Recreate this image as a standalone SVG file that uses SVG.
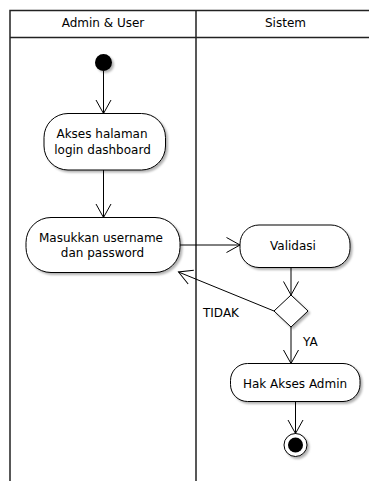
<svg xmlns="http://www.w3.org/2000/svg" width="369" height="481" viewBox="0 0 369 481">
<defs>
<marker id="arr" markerUnits="userSpaceOnUse" markerWidth="16" markerHeight="18" viewBox="-14 -9 16 18" refX="0" refY="0" orient="auto">
<path d="M-13.5,-7.5 L0,0 L-13.5,7.5" fill="none" stroke="#000" stroke-width="1"/>
</marker>
<filter id="sh" x="-20%" y="-20%" width="150%" height="150%">
<feDropShadow dx="2" dy="2" stdDeviation="1" flood-color="#000" flood-opacity="0.3"/>
</filter>
</defs>
<style>
.lane{fill:none;stroke:#222;stroke-width:1.5}
.act{fill:#fff;stroke:#000;stroke-width:1;filter:url(#sh)}
.t{font-family:"DejaVu Sans",sans-serif;font-size:12px;fill:#000}
.c{text-anchor:middle}
.edge{fill:none;stroke:#000;stroke-width:1;marker-end:url(#arr)}
</style>
<rect width="369" height="481" fill="#fff"/>
<g id="lanes">
<path class="lane" d="M10,481 V10.5 H369 M10,37.5 H369 M196,10.5 V481"/>
<text class="t c" x="103" y="27">Admin &amp; User</text>
<text class="t c" x="285.5" y="27">Sistem</text>
</g>
<g id="start"><circle cx="103.5" cy="62.5" r="8.5" fill="#000" filter="url(#sh)"/></g>
<g id="akses">
<rect class="act" x="44" y="113.5" width="121.5" height="56.5" rx="24" ry="24"/>
<text class="t c" x="102" y="138">Akses halaman</text>
<text class="t c" x="102.5" y="154">login dashboard</text>
</g>
<g id="masukkan">
<rect class="act" x="26" y="217.5" width="154" height="55" rx="25" ry="25"/>
<text class="t c" x="101" y="241.5">Masukkan username</text>
<text class="t c" x="102.5" y="257">dan password</text>
</g>
<g id="validasi">
<rect class="act" x="240" y="225" width="110" height="42.5" rx="19" ry="19"/>
<text class="t c" x="293" y="249.5">Validasi</text>
</g>
<g id="decision">
<polygon class="act" points="291,295 308,311 291,327 274,311"/>
</g>
<g id="hak">
<rect class="act" x="230.5" y="363.5" width="129.5" height="38" rx="17" ry="17"/>
<text class="t c" x="295" y="387.5">Hak Akses Admin</text>
</g>
<g id="end">
<circle cx="295.5" cy="445" r="11.5" fill="#fff" stroke="#000" stroke-width="1" filter="url(#sh)"/>
<circle cx="295.5" cy="445" r="7.5" fill="#000"/>
</g>
<g id="connectors">
<line class="edge" x1="103.5" y1="71" x2="103.5" y2="113.5"/>
<line class="edge" x1="103.5" y1="170" x2="103.5" y2="217.5"/>
<line class="edge" x1="180" y1="245" x2="240" y2="245"/>
<line class="edge" x1="291" y1="267.5" x2="291" y2="295"/>
<line class="edge" x1="274" y1="311" x2="178.5" y2="272"/>
<line class="edge" x1="291" y1="327" x2="291" y2="363.5"/>
<line class="edge" x1="295.5" y1="401.5" x2="295.5" y2="433.5"/>
<text class="t" x="203" y="317">TIDAK</text>
<text class="t" x="303" y="346">YA</text>
</g>
</svg>
